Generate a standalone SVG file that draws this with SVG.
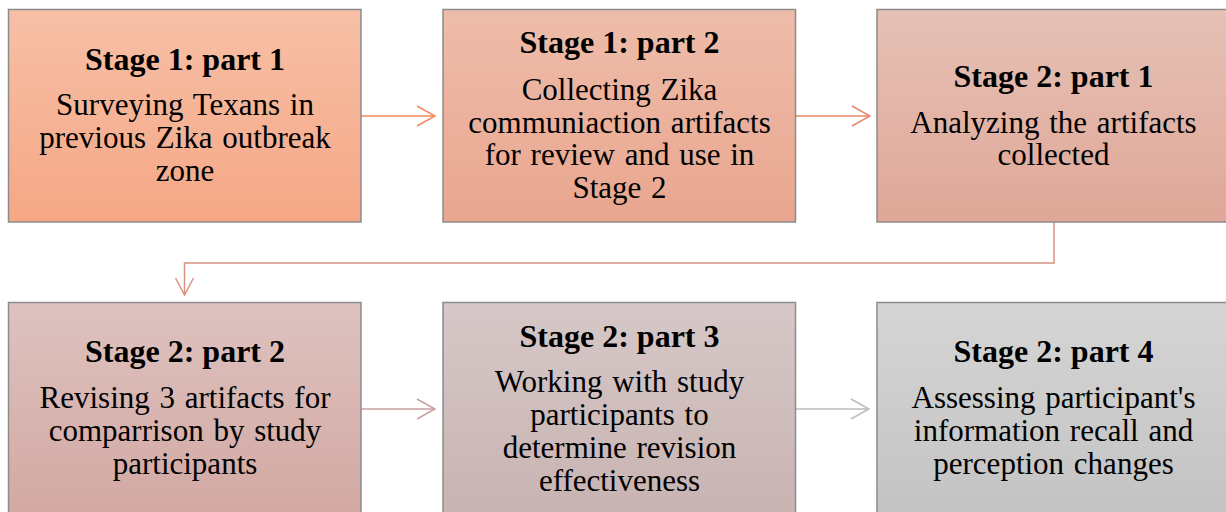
<svg xmlns="http://www.w3.org/2000/svg" width="1226" height="512" viewBox="0 0 1226 512">
<defs>
<linearGradient id="g1" x1="0" y1="0" x2="0" y2="1"><stop offset="0" stop-color="#F7C0A7"/><stop offset="1" stop-color="#F5A785"/></linearGradient>
<linearGradient id="g2" x1="0" y1="0" x2="0" y2="1"><stop offset="0" stop-color="#EEBDAA"/><stop offset="1" stop-color="#E9A68F"/></linearGradient>
<linearGradient id="g3" x1="0" y1="0" x2="0" y2="1"><stop offset="0" stop-color="#E6C1B6"/><stop offset="1" stop-color="#DFA797"/></linearGradient>
<linearGradient id="g4" x1="0" y1="0" x2="0" y2="1"><stop offset="0" stop-color="#DDC2C0"/><stop offset="1" stop-color="#D3A8A2"/></linearGradient>
<linearGradient id="g5" x1="0" y1="0" x2="0" y2="1"><stop offset="0" stop-color="#D6C8C8"/><stop offset="1" stop-color="#C8B3B1"/></linearGradient>
<linearGradient id="g6" x1="0" y1="0" x2="0" y2="1"><stop offset="0" stop-color="#D5D5D5"/><stop offset="1" stop-color="#C3C3C3"/></linearGradient>
<marker id="m1" viewBox="0 0 20 22" refX="19" refY="11" markerWidth="20" markerHeight="22" markerUnits="userSpaceOnUse" orient="auto"><path d="M1,1 L19,11 L1,21" fill="none" stroke="#F28A55" stroke-width="1.5"/></marker>
<marker id="m2" viewBox="0 0 20 22" refX="19" refY="11" markerWidth="20" markerHeight="22" markerUnits="userSpaceOnUse" orient="auto"><path d="M1,1 L19,11 L1,21" fill="none" stroke="#E8886A" stroke-width="1.5"/></marker>
<marker id="m3" viewBox="0 0 20 22" refX="19" refY="11" markerWidth="20" markerHeight="22" markerUnits="userSpaceOnUse" orient="auto"><path d="M2,2 L19,11 L2,20" fill="none" stroke="#D8937F" stroke-width="1.5"/></marker>
<marker id="m4" viewBox="0 0 20 22" refX="19" refY="11" markerWidth="20" markerHeight="22" markerUnits="userSpaceOnUse" orient="auto"><path d="M1,1 L19,11 L1,21" fill="none" stroke="#C79F9F" stroke-width="1.5"/></marker>
<marker id="m5" viewBox="0 0 20 22" refX="19" refY="11" markerWidth="20" markerHeight="22" markerUnits="userSpaceOnUse" orient="auto"><path d="M1,1 L19,11 L1,21" fill="none" stroke="#BBBBBB" stroke-width="1.5"/></marker>
</defs>
<style>
.box{stroke:#8C8C8C;stroke-width:1.5}
.t{font-family:"Liberation Serif","Times New Roman",serif;font-size:31px;fill:#000;text-anchor:middle;word-spacing:2px}
.b{font-weight:bold;font-size:32px;word-spacing:0}
.c{fill:none;stroke-width:1.5}
</style>
<g id="connectors">
<line class="c" x1="361" y1="116" x2="435" y2="116" stroke="#F28A55" marker-end="url(#m1)"/>
<line class="c" x1="796" y1="116" x2="870" y2="116" stroke="#E8886A" marker-end="url(#m2)"/>
<polyline class="c" points="1054,222 1054,263 184.5,263 184.5,295" stroke="#D8937F" marker-end="url(#m3)"/>
<line class="c" x1="361" y1="409" x2="435" y2="409" stroke="#C79F9F" marker-end="url(#m4)"/>
<line class="c" x1="796" y1="409" x2="869" y2="409" stroke="#BBBBBB" marker-end="url(#m5)"/>
</g>
<g id="n1">
<rect class="box" x="8.5" y="9.5" width="352.5" height="212.5" fill="url(#g1)"/>
<text class="t b" x="185" y="70">Stage 1: part 1</text>
<text class="t" x="185" y="115">Surveying Texans in</text>
<text class="t" x="185" y="148">previous Zika outbreak</text>
<text class="t" x="185" y="181">zone</text>
</g>
<g id="n2">
<rect class="box" x="443" y="9.5" width="352.5" height="212.5" fill="url(#g2)"/>
<text class="t b" x="619.5" y="53">Stage 1: part 2</text>
<text class="t" x="619.5" y="100">Collecting Zika</text>
<text class="t" x="619.5" y="132.5">communiaction artifacts</text>
<text class="t" x="619.5" y="165">for review and use in</text>
<text class="t" x="619.5" y="197.5">Stage 2</text>
</g>
<g id="n3">
<rect class="box" x="877" y="9.5" width="353" height="212.5" fill="url(#g3)"/>
<text class="t b" x="1053.5" y="87">Stage 2: part 1</text>
<text class="t" x="1053.5" y="132.5">Analyzing the artifacts</text>
<text class="t" x="1053.5" y="165">collected</text>
</g>
<g id="n4">
<rect class="box" x="8.5" y="302.5" width="352.5" height="215" fill="url(#g4)"/>
<text class="t b" x="185" y="362">Stage 2: part 2</text>
<text class="t" x="185" y="408">Revising 3 artifacts for</text>
<text class="t" x="185" y="441">comparrison by study</text>
<text class="t" x="185" y="474">participants</text>
</g>
<g id="n5">
<rect class="box" x="443" y="302.5" width="352.5" height="215" fill="url(#g5)"/>
<text class="t b" x="619.5" y="346.5">Stage 2: part 3</text>
<text class="t" x="619.5" y="392">Working with study</text>
<text class="t" x="619.5" y="424.5">participants to</text>
<text class="t" x="619.5" y="458">determine revision</text>
<text class="t" x="619.5" y="491">effectiveness</text>
</g>
<g id="n6">
<rect class="box" x="877" y="302.5" width="353" height="215" fill="url(#g6)"/>
<text class="t b" x="1053.5" y="362">Stage 2: part 4</text>
<text class="t" x="1053.5" y="408">Assessing participant's</text>
<text class="t" x="1053.5" y="441">information recall and</text>
<text class="t" x="1053.5" y="474">perception changes</text>
</g>
</svg>
